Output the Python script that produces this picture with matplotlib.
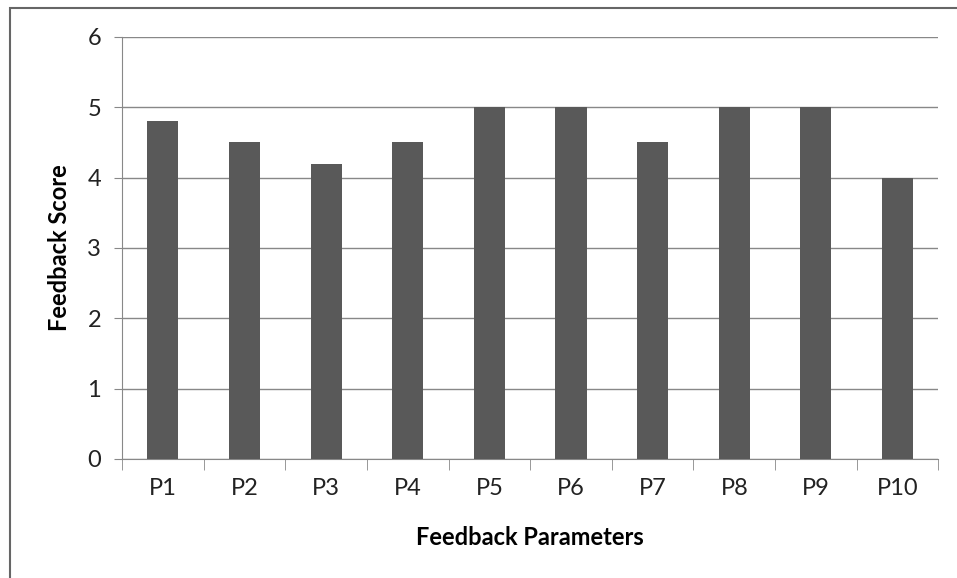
import numpy as np
import matplotlib.pyplot as plt
from matplotlib.patches import Rectangle

# data to plot
params = ['P1', 'P2', 'P3', 'P4', 'P5', 'P6', 'P7', 'P8', 'P9', 'P10']
scores = [4.8, 4.5, 4.2, 4.5, 5.0, 5.0, 4.5, 5.0, 5.0, 4.0]

plt.rcParams['font.family'] = ['Lato', 'DejaVu Sans']

fig = plt.figure(figsize=(9.57, 5.78), dpi=100)
ax = fig.add_axes([0.1275, 0.206, 0.853, 0.730])

index = np.arange(len(params))
ax.bar(index, scores, 0.38, color='#595959', zorder=3)

ax.set_xlim(-0.5, len(params) - 0.5)
ax.set_ylim(0, 6)
ax.set_yticks(range(0, 7))
ax.set_xticks(index)
ax.set_xticklabels(params, fontsize=17, color='#222222')
ax.set_xticks(np.arange(-0.5, len(params)), minor=True)
ax.tick_params(axis='x', which='major', length=0, pad=14)
ax.tick_params(axis='x', which='minor', length=8, color='#888888', direction='out')
ax.tick_params(axis='y', length=6, color='#888888', labelsize=17, labelcolor='#222222', pad=9)

ax.grid(axis='y', color='#888888', linewidth=1, zorder=0)
for s in ['top', 'right']:
    ax.spines[s].set_visible(False)
for s in ['left', 'bottom']:
    ax.spines[s].set_color('#888888')

ax.set_xlabel('Feedback Parameters', fontsize=17, fontweight='bold', labelpad=19)
ax.set_ylabel('Feedback Score', fontsize=17, fontweight='bold', labelpad=12)

# chart area border
fig.patches.append(Rectangle((10 / 957, -0.01), 1.0, 1 - 8 / 578 + 0.01,
                             transform=fig.transFigure, fill=False,
                             edgecolor='#666666', linewidth=1.5))

fig.savefig('out.png', dpi=100)
